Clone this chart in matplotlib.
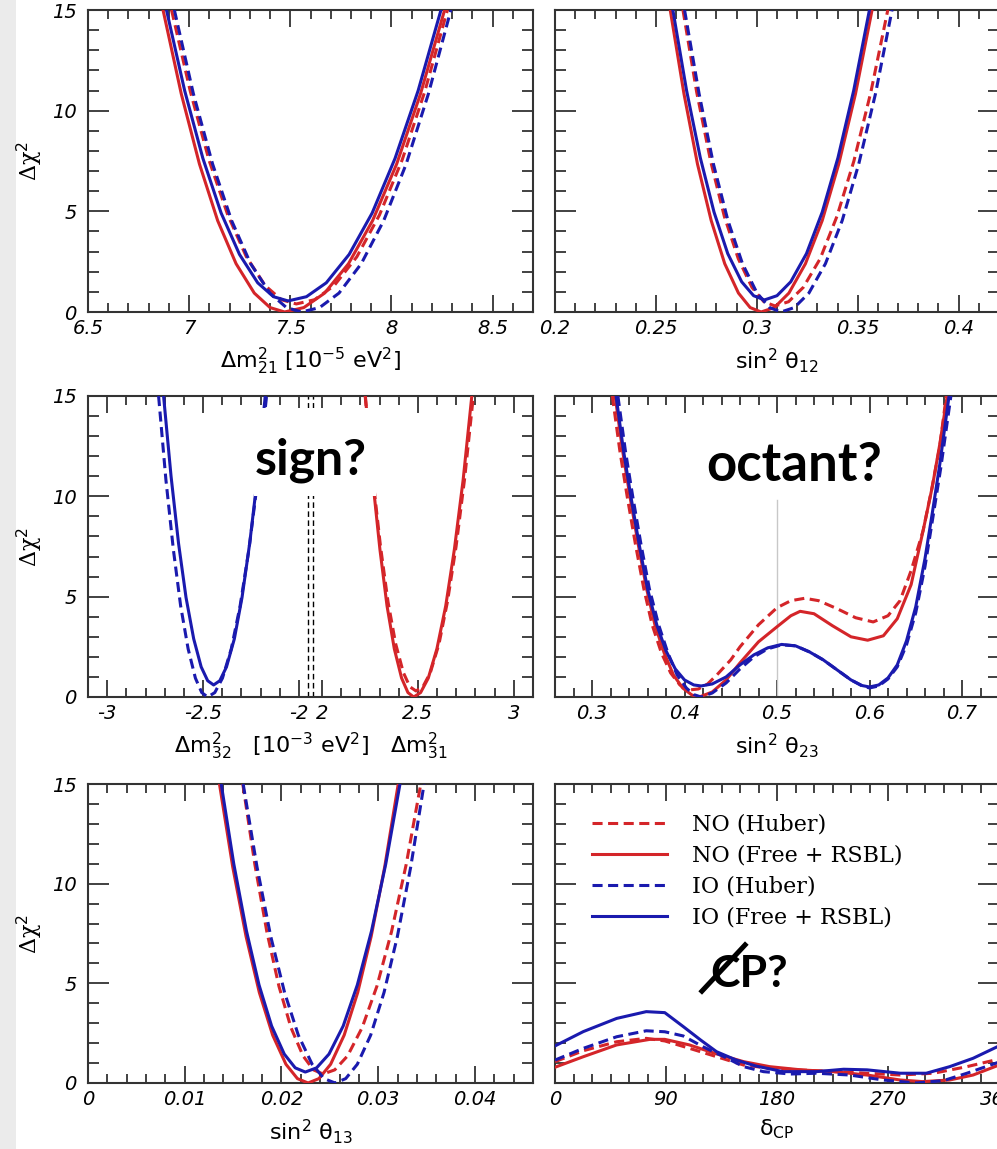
import numpy as np
import matplotlib
matplotlib.use('Agg')
import matplotlib.pyplot as plt
from matplotlib.patches import Rectangle
from matplotlib.ticker import MultipleLocator, FixedLocator, FormatStrFormatter

plt.rcParams['font.family'] = ['DejaVu Sans']
plt.rcParams['mathtext.fontset'] = 'dejavusans'

red = '#d42529'
blu = '#1a1aae'

labels = ['NO (Huber)', 'NO (Free + RSBL)', 'IO (Huber)', 'IO (Free + RSBL)']

# ---- delta m^2_21 [1e-5 eV^2]
dm21_no_huber_x = [6.913, 7.006, 7.098, 7.191, 7.283, 7.376, 7.456, 7.530, 7.620, 7.717, 7.829, 7.941, 8.053, 8.165, 8.277]
dm21_no_huber_y = [15, 10.95, 7.55, 4.82, 2.74, 1.31, 0.61, 0.40, 0.61, 1.31, 2.74, 4.82, 7.55, 10.95, 15]
dm21_no_free_x = [6.871, 6.961, 7.051, 7.141, 7.232, 7.322, 7.400, 7.472, 7.567, 7.670, 7.788, 7.907, 8.026, 8.144, 8.263]
dm21_no_free_y = [15, 10.84, 7.35, 4.54, 2.40, 0.94, 0.22, 0, 0.22, 0.94, 2.40, 4.54, 7.35, 10.84, 15]
dm21_io_huber_x = [6.927, 7.021, 7.116, 7.210, 7.304, 7.399, 7.481, 7.556, 7.645, 7.741, 7.851, 7.962, 8.073, 8.183, 8.294]
dm21_io_huber_y = [15, 10.84, 7.35, 4.54, 2.40, 0.94, 0.22, 0, 0.22, 0.94, 2.40, 4.54, 7.35, 10.84, 15]
dm21_io_free_x = [6.888, 6.978, 7.068, 7.158, 7.249, 7.339, 7.417, 7.489, 7.580, 7.678, 7.791, 7.905, 8.018, 8.132, 8.245]
dm21_io_free_y = [15, 10.99, 7.63, 4.92, 2.86, 1.45, 0.76, 0.55, 0.76, 1.45, 2.86, 4.92, 7.63, 10.99, 15]

# ---- sin^2 theta_12
s12_no_huber_x = [0.2634, 0.2702, 0.2771, 0.2839, 0.2908, 0.2976, 0.3035, 0.3090, 0.3157, 0.3230, 0.3314, 0.3397, 0.3481, 0.3565, 0.3649]
s12_no_huber_y = [15, 10.92, 7.50, 4.75, 2.65, 1.22, 0.51, 0.30, 0.51, 1.22, 2.65, 4.75, 7.50, 10.92, 15]
s12_no_free_x = [0.2571, 0.2639, 0.2706, 0.2774, 0.2841, 0.2909, 0.2967, 0.3021, 0.3087, 0.3159, 0.3241, 0.3324, 0.3406, 0.3489, 0.3571]
s12_no_free_y = [15, 10.84, 7.35, 4.54, 2.40, 0.94, 0.22, 0, 0.22, 0.94, 2.40, 4.54, 7.35, 10.84, 15]
s12_io_huber_x = [0.2642, 0.2714, 0.2785, 0.2857, 0.2929, 0.3001, 0.3063, 0.3120, 0.3186, 0.3258, 0.3340, 0.3423, 0.3505, 0.3588, 0.3670]
s12_io_huber_y = [15, 10.84, 7.35, 4.54, 2.40, 0.94, 0.22, 0, 0.22, 0.94, 2.40, 4.54, 7.35, 10.84, 15]
s12_io_free_x = [0.2584, 0.2652, 0.2720, 0.2788, 0.2856, 0.2925, 0.2984, 0.3038, 0.3100, 0.3168, 0.3246, 0.3324, 0.3402, 0.3480, 0.3558]
s12_io_free_y = [15, 11.0, 7.66, 4.96, 2.90, 1.50, 0.81, 0.60, 0.81, 1.50, 2.90, 4.96, 7.66, 11.0, 15]

# ---- delta m^2_3l [1e-3 eV^2] (IO: dm32 < 0, NO: dm31 > 0)
dm3l_no_huber_x = [2.225, 2.265, 2.305, 2.344, 2.384, 2.424, 2.458, 2.490, 2.526, 2.565, 2.610, 2.654, 2.699, 2.744, 2.789]
dm3l_no_huber_y = [15, 10.92, 7.50, 4.75, 2.65, 1.22, 0.51, 0.30, 0.51, 1.22, 2.65, 4.75, 7.50, 10.92, 15]
dm3l_no_free_x = [2.226, 2.264, 2.302, 2.339, 2.377, 2.415, 2.448, 2.478, 2.514, 2.554, 2.599, 2.645, 2.690, 2.736, 2.781]
dm3l_no_free_y = [15, 10.84, 7.35, 4.54, 2.40, 0.94, 0.22, 0, 0.22, 0.94, 2.40, 4.54, 7.35, 10.84, 15]
dm3l_io_huber_x = [-2.732, -2.694, -2.655, -2.617, -2.578, -2.540, -2.507, -2.476, -2.439, -2.399, -2.353, -2.307, -2.261, -2.215, -2.169]
dm3l_io_huber_y = [15, 10.84, 7.35, 4.54, 2.40, 0.94, 0.22, 0, 0.22, 0.94, 2.40, 4.54, 7.35, 10.84, 15]
dm3l_io_free_x = [-2.706, -2.667, -2.628, -2.589, -2.549, -2.510, -2.476, -2.445, -2.413, -2.378, -2.337, -2.297, -2.257, -2.216, -2.176]
dm3l_io_free_y = [15, 11.0, 7.66, 4.96, 2.90, 1.50, 0.81, 0.60, 0.81, 1.50, 2.90, 4.96, 7.66, 11.0, 15]

# ---- sin^2 theta_23
s23_no_huber_x = [0.322, 0.330, 0.338, 0.347, 0.356, 0.365, 0.375, 0.385, 0.395, 0.405,
                  0.415, 0.425, 0.435, 0.450, 0.460, 0.480, 0.500, 0.515, 0.530, 0.545,
                  0.565, 0.585, 0.604, 0.620, 0.633, 0.645, 0.658, 0.667, 0.676, 0.683]
s23_no_huber_y = [15, 12.3, 10.0, 7.6, 5.4, 3.6, 2.2, 1.2, 0.6, 0.35,
                  0.4, 0.65, 1.1, 1.85, 2.5, 3.6, 4.45, 4.8, 4.92, 4.8,
                  4.4, 3.95, 3.74, 4.05, 4.8, 6.3, 8.3, 10.3, 12.5, 15]
s23_no_free_x = [0.325, 0.333, 0.341, 0.350, 0.359, 0.368, 0.378, 0.388, 0.398, 0.408,
                 0.416, 0.430, 0.445, 0.460, 0.480, 0.500, 0.515, 0.525, 0.540, 0.560,
                 0.580, 0.598, 0.615, 0.630, 0.645, 0.658, 0.668, 0.676, 0.684]
s23_no_free_y = [15, 12.3, 10.0, 7.6, 5.4, 3.6, 2.2, 1.1, 0.45, 0.1,
                 0.0, 0.25, 0.85, 1.7, 2.75, 3.5, 4.05, 4.27, 4.15, 3.55,
                 3.0, 2.83, 3.05, 3.9, 5.6, 8.3, 10.5, 12.6, 15]
s23_io_huber_x = [0.328, 0.336, 0.344, 0.353, 0.362, 0.372, 0.382, 0.392, 0.402, 0.410,
                  0.418, 0.430, 0.445, 0.460, 0.475, 0.490, 0.505, 0.520, 0.535, 0.550,
                  0.565, 0.580, 0.592, 0.600, 0.610, 0.620, 0.630, 0.640, 0.650, 0.660,
                  0.668, 0.677, 0.688]
s23_io_huber_y = [15, 12.3, 10.0, 7.6, 5.4, 3.6, 2.2, 1.1, 0.45, 0.12,
                  0.0, 0.2, 0.7, 1.4, 2.0, 2.4, 2.6, 2.55, 2.25, 1.85,
                  1.35, 0.85, 0.55, 0.45, 0.55, 0.9, 1.5, 2.6, 4.2, 6.5,
                  8.8, 11.4, 15]
s23_io_free_x = [0.326, 0.334, 0.342, 0.351, 0.360, 0.370, 0.380, 0.390, 0.400, 0.410,
                 0.418, 0.430, 0.445, 0.460, 0.475, 0.490, 0.505, 0.520, 0.535, 0.550,
                 0.565, 0.580, 0.592, 0.600, 0.610, 0.620, 0.630, 0.640, 0.650, 0.660,
                 0.668, 0.676, 0.686]
s23_io_free_y = [15, 12.3, 10.0, 7.6, 5.4, 3.6, 2.3, 1.4, 0.85, 0.6,
                 0.55, 0.65, 1.0, 1.6, 2.1, 2.45, 2.62, 2.55, 2.25, 1.85,
                 1.35, 0.85, 0.57, 0.5, 0.6, 0.95, 1.6, 2.8, 4.5, 6.9,
                 9.2, 11.6, 15]

# ---- sin^2 theta_13
s13_no_huber_x = [0.0160, 0.01725, 0.01849, 0.01974, 0.02098, 0.02223, 0.0233, 0.0243, 0.02551, 0.02683, 0.02834, 0.02986, 0.03137, 0.03289, 0.0344]
s13_no_huber_y = [15, 10.96, 7.58, 4.85, 2.78, 1.36, 0.66, 0.45, 0.66, 1.36, 2.78, 4.85, 7.58, 10.96, 15]
s13_no_free_x = [0.01359, 0.01496, 0.01634, 0.01771, 0.01909, 0.02046, 0.02165, 0.02275, 0.02387, 0.02508, 0.02648, 0.02788, 0.02927, 0.03067, 0.03207]
s13_no_free_y = [15, 10.84, 7.35, 4.54, 2.40, 0.94, 0.22, 0, 0.22, 0.94, 2.40, 4.54, 7.35, 10.84, 15]
s13_io_huber_x = [0.01604, 0.01747, 0.01889, 0.02032, 0.02174, 0.02317, 0.02440, 0.02554, 0.02664, 0.02784, 0.02922, 0.03060, 0.03198, 0.03336, 0.03474]
s13_io_huber_y = [15, 10.84, 7.35, 4.54, 2.40, 0.94, 0.22, 0, 0.22, 0.94, 2.40, 4.54, 7.35, 10.84, 15]
s13_io_free_x = [0.01377, 0.01507, 0.01638, 0.01768, 0.01898, 0.02029, 0.02142, 0.02246, 0.02363, 0.02491, 0.02638, 0.02784, 0.02931, 0.03078, 0.03225]
s13_io_free_y = [15, 10.99, 7.63, 4.92, 2.86, 1.45, 0.76, 0.55, 0.76, 1.45, 2.86, 4.92, 7.63, 10.99, 15]

# ---- delta_CP [deg]
dcp_no_huber_x = [0, 23, 50, 74, 89, 109, 131, 153, 174, 201, 226, 253, 280, 307, 334, 360]
dcp_no_huber_y = [1.07, 1.62, 2.07, 2.24, 2.11, 1.74, 1.32, 0.90, 0.74, 0.65, 0.57, 0.49, 0.40, 0.49, 0.82, 1.20]
dcp_no_free_x = [0, 23, 50, 77, 89, 109, 131, 153, 174, 201, 226, 253, 280, 298, 320, 339, 360]
dcp_no_free_y = [0.79, 1.32, 1.91, 2.19, 2.19, 1.91, 1.46, 1.07, 0.82, 0.65, 0.57, 0.40, 0.15, 0.07, 0.15, 0.40, 0.90]
dcp_io_huber_x = [0, 23, 50, 74, 89, 104, 120, 137, 153, 169, 191, 212, 239, 266, 293, 315, 334, 360]
dcp_io_huber_y = [1.15, 1.74, 2.32, 2.62, 2.57, 2.36, 1.82, 1.32, 0.82, 0.57, 0.45, 0.49, 0.40, 0.15, 0.0, 0.12, 0.49, 1.05]
dcp_io_free_x = [0, 23, 50, 74, 89, 104, 118, 131, 147, 163, 185, 212, 234, 253, 280, 301, 320, 339, 360]
dcp_io_free_y = [1.86, 2.58, 3.24, 3.58, 3.53, 2.83, 2.16, 1.57, 1.15, 0.85, 0.57, 0.57, 0.69, 0.66, 0.49, 0.49, 0.82, 1.24, 1.86]

styles = [(red, '--'), (red, '-'), (blu, '--'), (blu, '-')]

W, H = 997, 1149
fig = plt.figure(figsize=(W / 100, H / 100), dpi=100)
fig.add_artist(Rectangle((0, 0), 16 / W, 1, transform=fig.transFigure,
                         facecolor='#ebebeb', edgecolor='none', zorder=0))


def px_axes(left, top, right, bottom):
    return fig.add_axes([left / W, 1 - bottom / H, (right - left) / W, (bottom - top) / H])


def style(ax, left_col):
    ax.set_ylim(0, 15)
    ax.yaxis.set_major_locator(MultipleLocator(5))
    ax.yaxis.set_minor_locator(MultipleLocator(1))
    ax.yaxis.set_major_formatter(FormatStrFormatter('%g'))
    ax.tick_params(which='both', direction='in', top=True, right=True,
                   width=1.3, color='#333333', labelsize=14)
    ax.tick_params(axis='y', which='major', length=15, pad=8)
    ax.tick_params(axis='y', which='minor', length=8)
    ax.tick_params(axis='x', which='major', length=12, pad=5)
    ax.tick_params(axis='x', which='minor', length=6.5)
    ax.tick_params(axis='y', labelleft=left_col)
    for s in ax.spines.values():
        s.set_linewidth(1.5)
        s.set_color('#333333')
    if left_col:
        ax.set_ylabel('Δχ$^2$', fontsize=16, fontfamily='DejaVu Serif', labelpad=5)


def draw(ax, xs, ys):
    for (c, ls), x, y, lab in zip(styles, xs, ys, labels):
        ln, = ax.plot(x, y, color=c, ls=ls, lw=2.2, label=lab, zorder=3)
        if ls == '--':
            ln.set_dashes((3.3, 1.8))


cols = [(88, 533), (555, 999)]
rows = [(10, 312), (396, 697), (784, 1083)]
LBL = 16

# panel 1
ax1 = px_axes(cols[0][0], rows[0][0], cols[0][1], rows[0][1])
draw(ax1, [dm21_no_huber_x, dm21_no_free_x, dm21_io_huber_x, dm21_io_free_x],
     [dm21_no_huber_y, dm21_no_free_y, dm21_io_huber_y, dm21_io_free_y])
ax1.set_xlim(6.5, 8.7)
ax1.xaxis.set_major_locator(MultipleLocator(0.5))
ax1.xaxis.set_minor_locator(MultipleLocator(0.1))
ax1.xaxis.set_major_formatter(FormatStrFormatter('%g'))
ax1.set_xlabel(r'$\Delta\mathrm{m}^2_{21}$ [10$^{-5}$ eV$^2$]', fontsize=LBL, labelpad=6)
style(ax1, True)

# panel 2
ax2 = px_axes(cols[1][0], rows[0][0], cols[1][1], rows[0][1])
draw(ax2, [s12_no_huber_x, s12_no_free_x, s12_io_huber_x, s12_io_free_x],
     [s12_no_huber_y, s12_no_free_y, s12_io_huber_y, s12_io_free_y])
ax2.set_xlim(0.2, 0.42)
ax2.xaxis.set_major_locator(MultipleLocator(0.05))
ax2.xaxis.set_minor_locator(MultipleLocator(0.01))
ax2.xaxis.set_major_formatter(FormatStrFormatter('%g'))
ax2.set_xlabel('sin$^2$ θ$_{12}$', fontsize=LBL, labelpad=6)
style(ax2, False)

# panel 3: split axis, -2 and 2 meet in the middle
gap = 1.94
ax3 = px_axes(cols[0][0], rows[1][0], cols[0][1], rows[1][1])
xs3 = []
for x in [dm3l_no_huber_x, dm3l_no_free_x, dm3l_io_huber_x, dm3l_io_free_x]:
    x = np.array(x)
    xs3.append(np.where(x < 0, x + gap, x - gap))
draw(ax3, xs3, [dm3l_no_huber_y, dm3l_no_free_y, dm3l_io_huber_y, dm3l_io_free_y])
ax3.set_xlim(-1.16, 1.16)
major_vals = [-3, -2.5, -2, 2, 2.5, 3]
ax3.xaxis.set_major_locator(FixedLocator([v + gap if v < 0 else v - gap for v in major_vals]))
ax3.set_xticklabels(['%g' % v for v in major_vals])
minor_vals = np.concatenate([np.arange(-3.1, -2.05, 0.1) + gap, np.arange(2.1, 3.15, 0.1) - gap])
ax3.xaxis.set_minor_locator(FixedLocator(minor_vals))
for xv in (-0.011, 0.011):
    ax3.plot([xv, xv], [0, 15], color='black', lw=1.0, ls=(0, (4, 2.5)), zorder=2)
ax3.add_patch(Rectangle((-0.295, 10), 0.635, 4.4, facecolor='white', edgecolor='none', zorder=4))
ax3.text(0.0, 11.1, 'sign?', fontsize=36, fontweight='bold', family='Lato',
         ha='center', va='baseline', zorder=5)
ax3.set_xlabel(r'$\Delta\mathrm{m}^2_{32}$   [10$^{-3}$ eV$^2$]   $\Delta\mathrm{m}^2_{31}$',
               fontsize=LBL, labelpad=6)
style(ax3, True)

# panel 4
ax4 = px_axes(cols[1][0], rows[1][0], cols[1][1], rows[1][1])
ax4.plot([0.5, 0.5], [0, 9.8], color='#c8c8c8', lw=1.0, zorder=2)
draw(ax4, [s23_no_huber_x, s23_no_free_x, s23_io_huber_x, s23_io_free_x],
     [s23_no_huber_y, s23_no_free_y, s23_io_huber_y, s23_io_free_y])
ax4.set_xlim(0.26, 0.74)
ax4.xaxis.set_major_locator(MultipleLocator(0.1))
ax4.xaxis.set_minor_locator(MultipleLocator(0.02))
ax4.xaxis.set_major_formatter(FormatStrFormatter('%g'))
ax4.text(0.518, 10.75, 'octant?', fontsize=38, fontweight='bold', family='Lato',
         ha='center', va='baseline', zorder=5)
ax4.set_xlabel('sin$^2$ θ$_{23}$', fontsize=LBL, labelpad=6)
style(ax4, False)

# panel 5
ax5 = px_axes(cols[0][0], rows[2][0], cols[0][1], rows[2][1])
draw(ax5, [s13_no_huber_x, s13_no_free_x, s13_io_huber_x, s13_io_free_x],
     [s13_no_huber_y, s13_no_free_y, s13_io_huber_y, s13_io_free_y])
ax5.set_xlim(0, 0.046)
ax5.xaxis.set_major_locator(MultipleLocator(0.01))
ax5.xaxis.set_minor_locator(MultipleLocator(0.002))
ax5.xaxis.set_major_formatter(FormatStrFormatter('%g'))
ax5.set_xlabel('sin$^2$ θ$_{13}$', fontsize=LBL, labelpad=6)
style(ax5, True)

# panel 6
ax6 = px_axes(cols[1][0], rows[2][0], cols[1][1], rows[2][1])
draw(ax6, [dcp_no_huber_x, dcp_no_free_x, dcp_io_huber_x, dcp_io_free_x],
     [dcp_no_huber_y, dcp_no_free_y, dcp_io_huber_y, dcp_io_free_y])
ax6.set_xlim(0, 360)
ax6.xaxis.set_major_locator(MultipleLocator(90))
ax6.xaxis.set_minor_locator(MultipleLocator(15))
ax6.xaxis.set_major_formatter(FormatStrFormatter('%g'))
ax6.text(157, 4.82, 'CP?', fontsize=32, fontweight='bold', family='Lato',
         ha='center', va='baseline', zorder=5)
ax6.plot([0.327, 0.432], [0.301, 0.468], color='black', lw=3.6,
         solid_capstyle='butt', transform=ax6.transAxes, zorder=6)
ax6.legend(loc='upper left', bbox_to_anchor=(0.083, 0.9), frameon=False,
           prop={'family': 'DejaVu Serif', 'size': 16}, handlelength=3.4,
           handletextpad=1.1, labelspacing=0.4, borderpad=0, borderaxespad=0)
ax6.set_xlabel(r'δ$_{\mathrm{CP}}$', fontsize=LBL, labelpad=6)
style(ax6, False)

for ax in (ax1, ax2, ax3, ax4, ax5, ax6):
    for lab in ax.get_xticklabels() + ax.get_yticklabels():
        lab.set_style('italic')

fig.savefig('out.png', dpi=100)
